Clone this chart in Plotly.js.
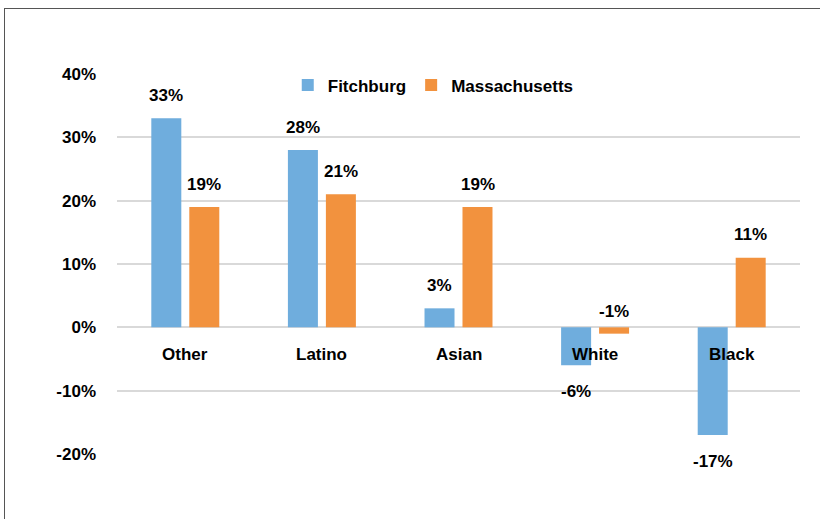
<!DOCTYPE html>
<html><head><meta charset="utf-8">
<script src="https://cdn.plot.ly/plotly-3.0.1.min.js"></script>
<style>
html,body{margin:0;padding:0;background:#fff;overflow:hidden}
#chart{position:absolute;left:0;top:0;width:820px;height:519px}
#frame{position:absolute;left:4px;top:8px;width:830px;height:530px;border:1.5px solid #555;pointer-events:none}
</style></head>
<body>
<div id="chart"></div>
<div id="frame"></div>
<script>
const categories = ["Other","Latino","Asian","White","Black"];
const fitchburg = [33, 28, 3, -6, -17];
const massachusetts = [19, 21, 19, -1, 11];
const seriesNames = ["Fitchburg","Massachusetts"];
const yTickVals = [-20,-10,0,10,20,30,40];
const yTickText = ["-20%","-10%","0%","10%","20%","30%","40%"];

const FONT = "'Liberation Sans Narrow', 'Arial Narrow', 'Liberation Sans', Arial, sans-serif";
const colors = ["#6FADDD","#F2923E"];

const traces = [fitchburg, massachusetts].map((vals,i)=>({
  type:"bar", name:seriesNames[i], x:categories, y:vals,
  marker:{color:colors[i]}, hoverinfo:"none"
}));

const annotations = [];
categories.forEach(c=>annotations.push({
  x:c, y:0, xref:"x", yref:"y", text:"<b>"+c+"</b>", showarrow:false,
  yanchor:"middle", yshift:-27, font:{family:FONT,size:17,color:"#000"}
}));
[fitchburg, massachusetts].forEach((vals,i)=>{
  vals.forEach((v,j)=>{
    const above = v >= 0 || v > -3;
    annotations.push({
      x:categories[j], y: v>=0 ? v : (above ? 0 : v), xref:"x", yref:"y",
      text:"<b>"+v+"%</b>", showarrow:false,
      xshift: i===0 ? -19 : 19,
      yanchor:"middle", yshift: above ? (v>=0?23:16) : -26,
      font:{family:FONT,size:17,color:"#000"}
    });
  });
});

const layout = {
  width:820, height:519,
  margin:{l:117, r:20, t:74, b:65},
  paper_bgcolor:"#fff", plot_bgcolor:"#fff",
  barmode:"group", bargap:0.444, bargroupgap:0.21,
  showlegend:true,
  legend:{orientation:"h", x:0.25, y:1.017, xanchor:"left", yanchor:"top",
    font:{family:FONT,size:17,color:"#000",weight:"bold"}, itemwidth:30, tracegroupgap:0,
    bgcolor:"rgba(0,0,0,0)"},
  xaxis:{showticklabels:false, showgrid:false, zeroline:false, showline:false, ticks:""},
  yaxis:{range:[-20,40], tickvals:yTickVals, ticktext:yTickText,
    showgrid:true, gridcolor:"#D9D9D9", gridwidth:2,
    zeroline:true, zerolinecolor:"#D9D9D9", zerolinewidth:2,
    showline:false, ticks:"", ticklabelstandoff:20,
    tickfont:{family:FONT,size:17,color:"#000",weight:"bold"}},
  annotations:annotations,
  font:{family:FONT}
};
Plotly.newPlot("chart", traces, layout, {displayModeBar:false, staticPlot:true});
</script>
</body></html>
